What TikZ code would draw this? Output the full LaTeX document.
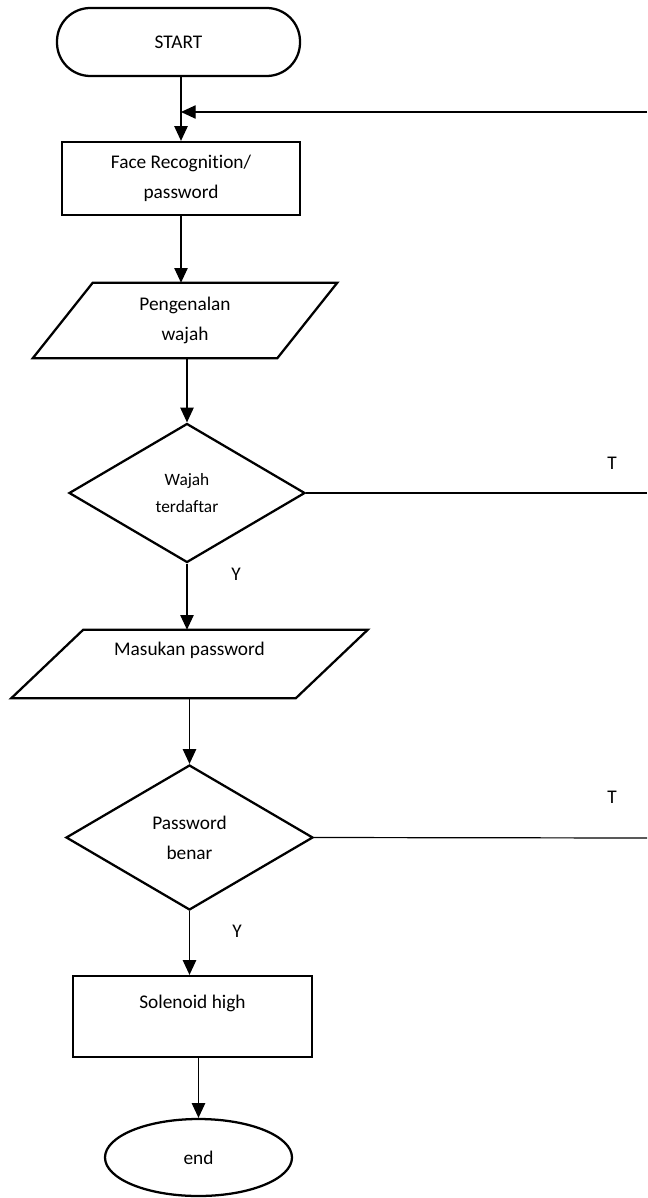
\documentclass[tikz,border=0pt]{standalone}
\usepackage{fontspec}
\setmainfont{Carlito}[Ligatures=NoCommon]
\usetikzlibrary{shapes.geometric,arrows.meta}
\begin{document}
\begin{tikzpicture}[x=0.75pt,y=-0.75pt,
  shapeline/.style={draw=black,line width=1.7pt},
  txt/.style={font={\fontsize{14.5}{22.5}\selectfont},align=center,inner sep=0pt},
  terminal/.style={shapeline,txt,rectangle,rounded corners=25pt,minimum width=182.25pt,minimum height=51pt},
  procbox/.style={shapeline,txt,rectangle,minimum width=178.5pt,minimum height=54.75pt},
  iobox/.style={txt,rectangle,draw=none},
  decision/.style={shapeline,txt,diamond,inner sep=0pt},
  endnode/.style={shapeline,txt,ellipse,minimum width=140.25pt,minimum height=57.75pt},
  conn/.style={draw=black,line width=0.9pt},
  arr/.style={conn,-{Triangle[length=11pt,width=10pt]}},
  lbl/.style={font={\fontsize{14.5}{16}\selectfont},inner sep=0pt}]
\useasboundingbox (0,0) rectangle (647,1198);

% nodes
\node[terminal] (start) at (178.5,42) {START};
\node[procbox] (face) at (181,178.5) {Face Recognition/\\password};
\node[iobox,minimum width=183pt,minimum height=56.25pt] (p1) at (185,320.5) {Pengenalan\\wajah};
\draw[shapeline] ([xshift=22.5pt]p1.north west) -- ([xshift=22.5pt]p1.north east)
  -- ([xshift=-22.5pt]p1.south east) -- ([xshift=-22.5pt]p1.south west) -- cycle;
\node[decision,minimum width=177pt,minimum height=104.25pt,font={\fontsize{13}{20.25}\selectfont}] (d1) at (187,493) {Wajah\\terdaftar};
\node[iobox,minimum width=213pt,minimum height=51pt] (p2) at (189.5,664) {Masukan password\\\mbox{}};
\draw[shapeline] ([xshift=27pt]p2.north west) -- ([xshift=27pt]p2.north east)
  -- ([xshift=-27pt]p2.south east) -- ([xshift=-27pt]p2.south west) -- cycle;
\node[decision,minimum width=185.25pt,minimum height=108.75pt] (d2) at (189.5,837.5) {Password\\benar};
\node[procbox,minimum width=179.25pt,minimum height=60.75pt] (sol) at (192.5,1016.5) {Solenoid high\\\mbox{}};
\node[endnode] (end) at (198.5,1157.5) {end};

% free ends at right edge
\coordinate (ret) at (647,112);
\coordinate (t1) at (647,493);
\coordinate (t2) at (647,838);

% labels
\node[lbl] (lt1) at (612,463) {T};
\node[lbl] (ly1) at (236,574) {Y};
\node[lbl] (lt2) at (612,797) {T};
\node[lbl] (ly2) at (237,931) {Y};

% connectors
\draw[arr] (face.north |- start.south) -- (face.north);
\draw[arr] (ret) -- (face.north |- ret);
\draw[arr] (face.south) -- (face.south |- p1.north);
\draw[arr] (d1.north |- p1.south) -- (d1.north);
\draw[conn] (d1.east) -- (t1);
\draw[arr] (d1.south) -- (d1.south |- p2.north);
\draw[arr] (d2.north |- p2.south) -- (d2.north);
\draw[conn] (d2.east) -- (t2);
\draw[arr] (d2.south) -- (d2.south |- sol.north);
\draw[arr] (end.north |- sol.south) -- (end.north);
\end{tikzpicture}
\end{document}
